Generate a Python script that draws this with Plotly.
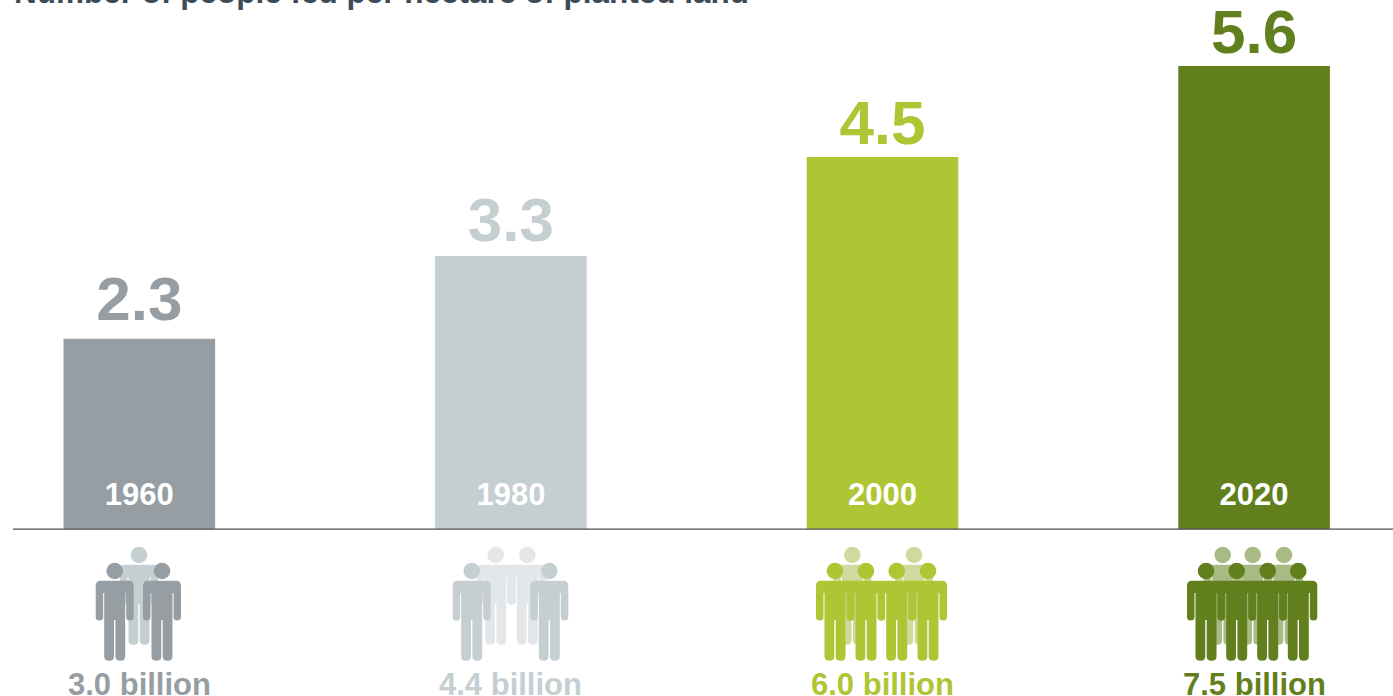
import plotly.graph_objects as go

W, H = 1393, 696
FONT = "Liberation Sans"

years = ["1960", "1980", "2000", "2020"]
people_fed = [2.3, 3.3, 4.5, 5.6]
population = ["3.0 billion", "4.4 billion", "6.0 billion", "7.5 billion"]
title_text = "Number of people fed per hectare of planted land"

colors = ["#969ea3", "#c5ced1", "#aec534", "#627f1d"]
back_colors = ["#c5ced1", "#e3e7e9", "#cfdb9e", "#a9bb84"]

# Small per-label vertical nudges (axis units), styling only
label_nudge = [0.035, 0.0, -0.035, -0.03]

# Icon head centres in page pixels (decoration only, not data)
front_heads = [[114.7, 162], [471.7, 549.3], [835, 866, 896.7, 928], [1206, 1236.7, 1267.7, 1298.3]]
back_heads = [[139], [495.7, 527.3], [852.3, 914], [1222.7, 1252.7, 1284]]
FRONT_Y, BACK_Y = 571, 555


def person(cx, cy, color):
    def X(v):
        return (cx + v) / W

    def Y(v):
        return 1 - (cy + v) / H

    outline = [
        ("M", -14, 9.7), ("L", 14, 9.7), ("Q", 19, 9.7, 19, 15), ("L", 19, 46),
        ("Q", 19, 49.5, 15.2, 49.5), ("Q", 11.5, 49.5, 11.5, 46), ("L", 11.5, 22),
        ("L", 10.5, 22), ("L", 10.5, 85.5), ("Q", 10.5, 89.7, 5.6, 89.7),
        ("Q", 0.7, 89.7, 0.7, 85.5), ("L", 0.7, 49), ("L", -0.7, 49), ("L", -0.7, 85.5),
        ("Q", -0.7, 89.7, -5.6, 89.7), ("Q", -10.5, 89.7, -10.5, 85.5), ("L", -10.5, 22),
        ("L", -11.5, 22), ("L", -11.5, 46), ("Q", -11.5, 49.5, -15.2, 49.5),
        ("Q", -19, 49.5, -19, 46), ("L", -19, 15), ("Q", -19, 9.7, -14, 9.7),
    ]
    parts = []
    for seg in outline:
        coords = seg[1:]
        pts = [f"{X(coords[i]):.5f},{Y(coords[i + 1]):.5f}" for i in range(0, len(coords), 2)]
        parts.append(seg[0] + " ".join(pts))
    body = " ".join(parts) + " Z"
    head = dict(type="circle", xref="paper", yref="paper",
                x0=X(-8.3), x1=X(8.3), y0=Y(-8.3), y1=Y(8.3),
                fillcolor=color, line_width=0, layer="above")
    return [dict(type="path", xref="paper", yref="paper", path=body,
                 fillcolor=color, line_width=0, layer="above"), head]


shapes = [dict(type="line", xref="paper", yref="y", x0=13 / W, x1=1, y0=0, y1=0,
               line=dict(color="#4a4f52", width=1.3), layer="above")]
for i in range(4):
    for cx in back_heads[i]:
        shapes += person(cx, BACK_Y, back_colors[i])
    for cx in front_heads[i]:
        shapes += person(cx, FRONT_Y, colors[i])

fig = go.Figure()
fig.add_bar(
    x=years, y=people_fed, width=0.408, marker=dict(color=colors, line_width=0),
    cliponaxis=False, showlegend=False,
)
fig.add_scatter(
    x=years, y=[v + n for v, n in zip(people_fed, label_nudge)], mode="text",
    text=[f"{v:.1f}" for v in people_fed],
    textposition="top center", cliponaxis=False, showlegend=False,
    textfont=dict(family=FONT, size=62, color=colors, weight="bold"),
)
fig.add_scatter(
    x=years, y=[0.39] * 4, mode="text", text=years, showlegend=False,
    textfont=dict(family=FONT, size=31, color="white", weight="bold"),
)

annotations = [
    dict(xref="x", yref="paper", x=i, y=1 - 684 / H, text=f"<b>{lab}</b>", showarrow=False,
         yanchor="middle", xanchor="center", font=dict(family=FONT, size=31, color=c))
    for i, (lab, c) in enumerate(zip(population, colors))
]
annotations.append(dict(xref="paper", yref="paper", x=12 / W, y=1 - 12 / H, text=f"<b>{title_text}</b>",
                        showarrow=False, xanchor="left", yanchor="bottom",
                        font=dict(family=FONT, size=31.5, color="#3d4b57")))

fig.update_layout(
    width=W, height=H, autosize=False, margin=dict(l=0, r=0, t=0, b=0),
    paper_bgcolor="white", plot_bgcolor="white", shapes=shapes, annotations=annotations,
    xaxis=dict(type="category", categoryorder="array", categoryarray=years,
               range=[-0.3749, 3.3738], visible=False),
    yaxis=dict(range=[-2.019, 6.397], visible=False),
)
fig.write_html("out.html", config=dict(displayModeBar=False),
               post_script="document.body.style.margin='0';document.body.style.overflow='hidden';")
